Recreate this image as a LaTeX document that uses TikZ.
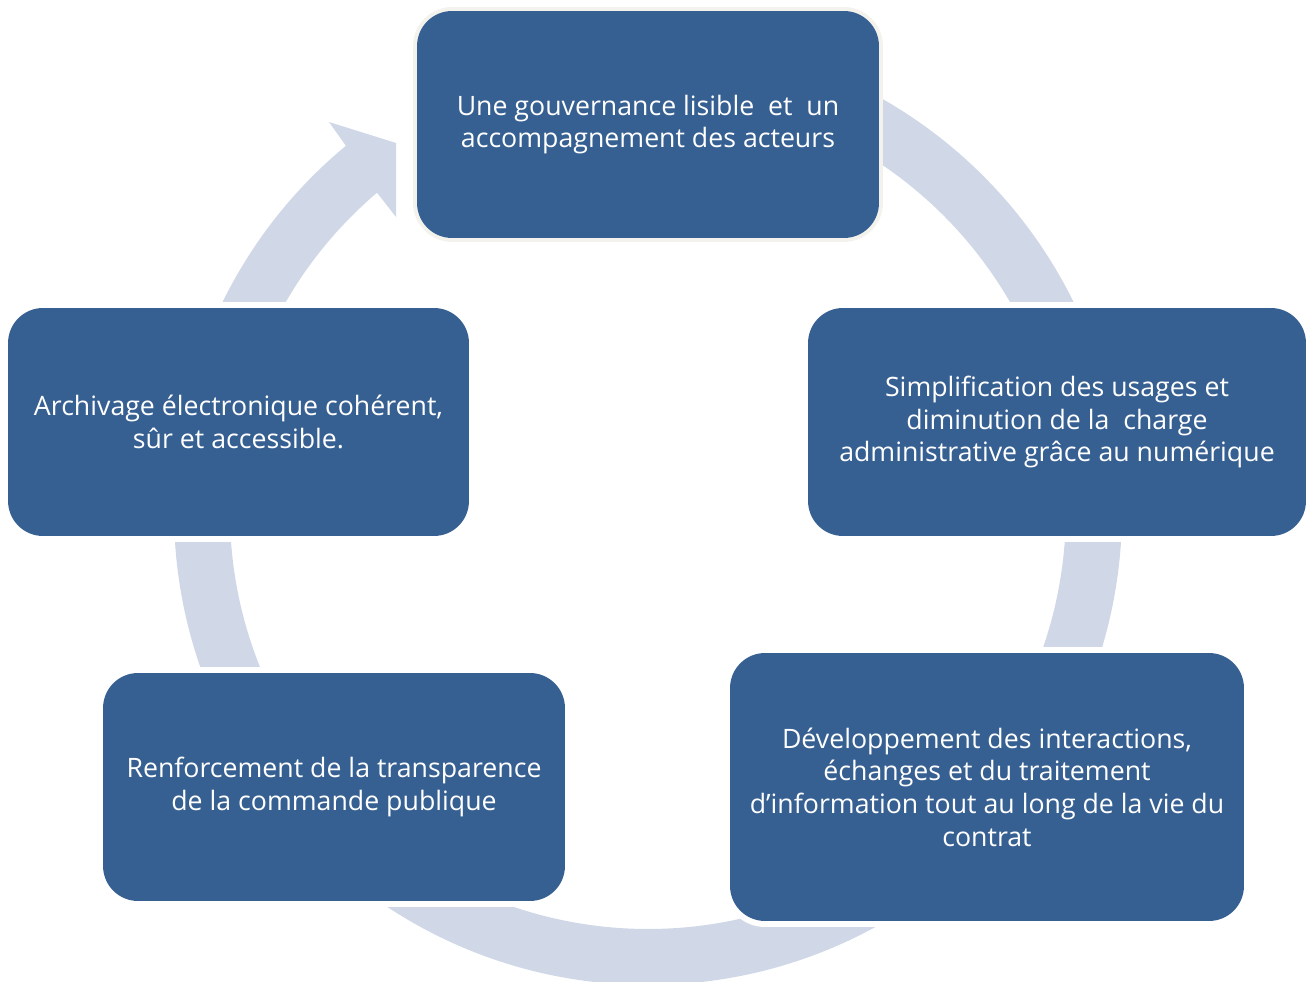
\documentclass[tikz,border=0pt]{standalone}
\usepackage{fontspec}
\setmainfont{Open Sans}
\definecolor{boxblue}{HTML}{376092}
\definecolor{ringblue}{HTML}{D0D8E8}
\definecolor{rimbeige}{HTML}{F4F2ED}

\begin{document}
\begin{tikzpicture}[x=0.02cm, y=-0.02cm]
\tikzstyle{blk}=[rectangle, rounded corners=0.7cm, fill=boxblue, text=white,
                        align=center, inner sep=0pt, font=\fontsize{15.2}{18.6}\selectfont]
\tikzstyle{masked}=[blk, preaction={draw=white, line width=0.24cm}]
\useasboundingbox (0,0) rectangle (1309,982);
% the circular arrow behind the boxes
\begin{scope}[shift={(648,511)}]
\fill[ringblue] (-90:474) arc[start angle=-90, end angle=230.4, radius=474]
    -- (-319,-389) -- (-252,-368) -- (-252,-294) -- (-271,-318.3)
    arc[start angle=229.6, end angle=-90, radius=418] -- cycle;
\end{scope}
	\node[blk, minimum width=9.24cm, minimum height=4.54cm,
	      preaction={draw=rimbeige, line width=0.16cm}] (T) at (648,124.5)
	      {Une gouvernance lisible\ \ et\ \ un\\accompagnement des acteurs};
	\node[masked, minimum width=9.96cm, minimum height=4.56cm] (R) at (1057,422)
	      {Simplification des usages et\\diminution de la\ \ charge\\administrative grâce au numérique};
	\node[masked, minimum width=10.28cm, minimum height=5.36cm] (BR) at (987,787)
	      {Développement des interactions,\\échanges et du traitement\\d’information tout au long de la vie du\\contrat};
	\node[masked, minimum width=9.24cm, minimum height=4.56cm] (BL) at (334,787)
	      {Renforcement de la transparence\\de la commande publique};
	\node[masked, minimum width=9.22cm, minimum height=4.56cm] (L) at (238.5,422)
	      {Archivage électronique cohérent,\\sûr et accessible.};
\end{tikzpicture}
\end{document}
